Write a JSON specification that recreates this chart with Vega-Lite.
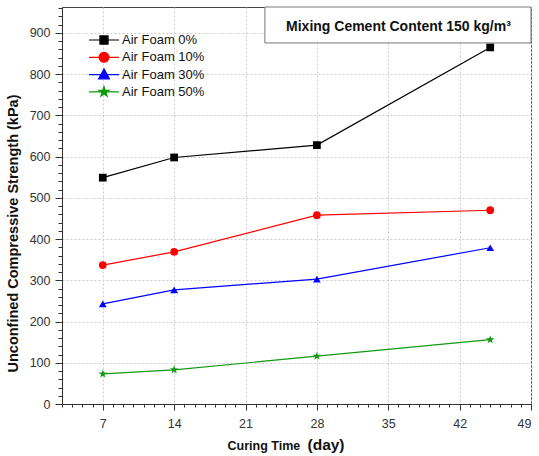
{
  "$schema": "https://vega.github.io/schema/vega-lite/v6.json",
  "autosize": "none",
  "width": 469,
  "height": 397,
  "padding": {"left": 62, "top": 7, "right": 8, "bottom": 52},
  "background": "white",
  "config": {
    "font": "Liberation Sans",
    "view": {"stroke": "#444444", "strokeWidth": 1},
    "axis": {"domainColor": "#333333", "tickColor": "#333333", "labelColor": "#333333", "titleColor": "#111111", "gridColor": "#cccccc", "gridDash": [2, 2], "gridWidth": 1}
  },
  "datasets": {
    "series": [
      {"series": "Air Foam 0%", "day": 7, "value": 549},
      {"series": "Air Foam 0%", "day": 14, "value": 598},
      {"series": "Air Foam 0%", "day": 28, "value": 628},
      {"series": "Air Foam 0%", "day": 45, "value": 865},
      {"series": "Air Foam 10%", "day": 7, "value": 337},
      {"series": "Air Foam 10%", "day": 14, "value": 369},
      {"series": "Air Foam 10%", "day": 28, "value": 458},
      {"series": "Air Foam 10%", "day": 45, "value": 470},
      {"series": "Air Foam 30%", "day": 7, "value": 243},
      {"series": "Air Foam 30%", "day": 14, "value": 277},
      {"series": "Air Foam 30%", "day": 28, "value": 303},
      {"series": "Air Foam 30%", "day": 45, "value": 379},
      {"series": "Air Foam 50%", "day": 7, "value": 73},
      {"series": "Air Foam 50%", "day": 14, "value": 83},
      {"series": "Air Foam 50%", "day": 28, "value": 116},
      {"series": "Air Foam 50%", "day": 45, "value": 156}
    ],
    "box": [
      {"x1": 22.9, "x2": 49, "y1": 875.8, "y2": 963, "xm": 36.0, "ym": 915, "label": "Mixing Cement Content 150 kg/m³"}
    ]
  },
  "layer": [
    {
      "data": {"name": "series"},
      "mark": {"type": "line", "strokeWidth": 1.2},
      "encoding": {
        "x": {
          "field": "day", "type": "quantitative",
          "scale": {"domain": [3, 49], "nice": false, "zero": false},
          "axis": {
            "orient": "bottom",
            "values": [7, 14, 21, 28, 35, 42, 49],
            "grid": true, "tickSize": 6, "labelFontSize": 12.5, "labelPadding": 7,
            "title": "Curing Time", "titleFontSize": 12.5, "titleFontWeight": "bold",
            "titleAlign": "left", "titleAnchor": "start", "titleBaseline": "alphabetic", "titleX": 165, "titleY": 45
          }
        },
        "y": {
          "field": "value", "type": "quantitative",
          "scale": {"domain": [0, 963], "nice": false},
          "axis": {
            "orient": "left",
            "values": [0, 100, 200, 300, 400, 500, 600, 700, 800, 900],
            "grid": true, "tickSize": 7, "labelFontSize": 12.5, "labelPadding": 5,
            "title": "Unconfined Compressive Strength (kPa)", "titleFontSize": 14.5, "titleFontWeight": "bold",
            "titleAngle": -90, "titleAlign": "center", "titleBaseline": "bottom", "titleX": -42, "titleY": 226
          }
        },
        "color": {
          "field": "series", "type": "nominal",
          "scale": {"domain": ["Air Foam 0%", "Air Foam 10%", "Air Foam 30%", "Air Foam 50%"], "range": ["#000000", "#ff0000", "#0000ff", "#119911"]},
          "legend": null
        },
        "detail": {"field": "series"}
      }
    },
    {
      "data": {"name": "series"},
      "mark": {"type": "point", "filled": true, "size": 60, "opacity": 1},
      "encoding": {
        "x": {
          "field": "day", "type": "quantitative",
          "scale": {"domain": [3, 49], "nice": false, "zero": false},
          "axis": {
            "orient": "bottom",
            "values": [3,4,5,6,7,8,9,10,11,12,13,14,15,16,17,18,19,20,21,22,23,24,25,26,27,28,29,30,31,32,33,34,35,36,37,38,39,40,41,42,43,44,45,46,47,48,49],
            "grid": false, "domain": false, "labels": false, "tickSize": 3,
            "title": "(day)", "titleFontSize": 15.5, "titleFontWeight": "bold",
            "titleAlign": "left", "titleAnchor": "start", "titleBaseline": "alphabetic", "titleX": 245, "titleY": 45
          }
        },
        "y": {
          "field": "value", "type": "quantitative",
          "scale": {"domain": [0, 963], "nice": false},
          "axis": {
            "orient": "left",
            "values": [0,20,40,60,80,100,120,140,160,180,200,220,240,260,280,300,320,340,360,380,400,420,440,460,480,500,520,540,560,580,600,620,640,660,680,700,720,740,760,780,800,820,840,860,880,900,920,940,960],
            "grid": false, "domain": false, "labels": false, "tickSize": 4, "title": null
          }
        },
        "color": {
          "field": "series", "type": "nominal",
          "scale": {"domain": ["Air Foam 0%", "Air Foam 10%", "Air Foam 30%", "Air Foam 50%"], "range": ["#000000", "#ff0000", "#0000ff", "#119911"]},
          "legend": null
        },
        "shape": {
          "field": "series", "type": "nominal",
          "scale": {"domain": ["Air Foam 0%", "Air Foam 10%", "Air Foam 30%", "Air Foam 50%"], "range": ["square", "circle", "triangle-up", "M0,-1.15L0.27,-0.373L1.094,-0.355L0.437,0.143L0.676,0.93L0,0.46L-0.676,0.93L-0.437,0.143L-1.094,-0.355L-0.27,-0.373Z"]},
          "legend": null
        }
      }
    },
    {
      "data": {"name": "series"},
      "mark": {"type": "point", "filled": true, "size": 10, "opacity": 0, "strokeWidth": 1.2},
      "encoding": {
        "x": {"field": "day", "type": "quantitative", "scale": {"domain": [3, 49], "nice": false, "zero": false}, "axis": null},
        "y": {"field": "value", "type": "quantitative", "scale": {"domain": [0, 963], "nice": false}, "axis": null},
        "fill": {
          "field": "series", "type": "nominal",
          "scale": {"domain": ["Air Foam 0%", "Air Foam 10%", "Air Foam 30%", "Air Foam 50%"], "range": ["#000000", "#ff0000", "#0000ff", "#119911"]}
        },
        "stroke": {
          "field": "series", "type": "nominal",
          "scale": {"domain": ["Air Foam 0%", "Air Foam 10%", "Air Foam 30%", "Air Foam 50%"], "range": ["#000000", "#ff0000", "#0000ff", "#119911"]}
        },
        "shape": {
          "field": "series", "type": "nominal",
          "scale": {"domain": ["Air Foam 0%", "Air Foam 10%", "Air Foam 30%", "Air Foam 50%"], "range": [
            "M-1,0H1M-0.27,-0.27H0.27V0.27H-0.27Z",
            "M-1,0H1M-0.33,0A0.33,0.33 0 1,0 0.33,0A0.33,0.33 0 1,0 -0.33,0Z",
            "M-1,0H1M0,-0.38L0.36,0.28H-0.36Z",
            "M-1,0H1M0,-0.35L0.082,-0.113L0.333,-0.108L0.133,0.043L0.206,0.283L0,0.14L-0.206,0.283L-0.133,0.043L-0.333,-0.108L-0.082,-0.113Z"
          ]},
          "legend": {
            "title": null, "orient": "none", "legendX": 26, "legendY": 24.5, "padding": 0,
            "symbolSize": 900, "clipHeight": 17, "rowPadding": 0.3, "labelFontSize": 13, "labelColor": "#111111",
            "symbolStrokeWidth": 1.2, "symbolOpacity": 1, "labelOffset": 2
          }
        }
      }
    },
    {
      "data": {"name": "box"},
      "mark": {"type": "rect", "fill": "white", "stroke": "#777777", "strokeWidth": 1},
      "encoding": {
        "x": {"field": "x1", "type": "quantitative", "scale": {"domain": [3, 49], "nice": false, "zero": false}, "axis": null},
        "x2": {"field": "x2"},
        "y": {"field": "y1", "type": "quantitative", "scale": {"domain": [0, 963], "nice": false}, "axis": null},
        "y2": {"field": "y2"}
      }
    },
    {
      "data": {"name": "box"},
      "mark": {"type": "text", "fontSize": 14, "fontWeight": "bold", "color": "#111111", "align": "center", "baseline": "middle"},
      "encoding": {
        "x": {"field": "xm", "type": "quantitative", "scale": {"domain": [3, 49], "nice": false, "zero": false}, "axis": null},
        "y": {"field": "ym", "type": "quantitative", "scale": {"domain": [0, 963], "nice": false}, "axis": null},
        "text": {"field": "label"}
      }
    }
  ],
  "resolve": {"axis": {"x": "independent", "y": "independent"}, "scale": {"shape": "independent", "fill": "independent", "stroke": "independent"}}
}
